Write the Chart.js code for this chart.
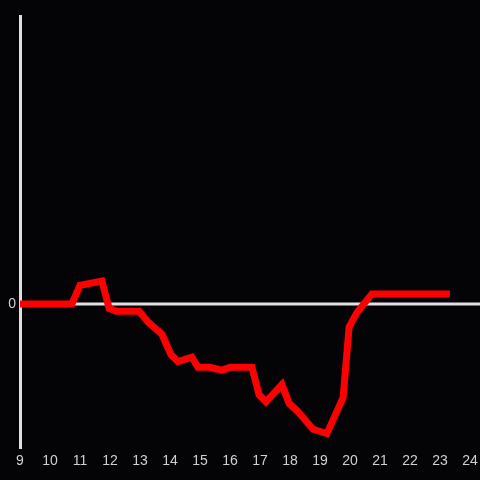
<!DOCTYPE html>
<html>
<head>
<meta charset="utf-8">
<script src="https://cdn.jsdelivr.net/npm/chart.js@4/dist/chart.umd.min.js"></script>
<style>
  html, body { margin: 0; padding: 0; background: #040306; }
  #wrap { width: 480px; height: 480px; }
</style>
</head>
<body>
<div id="wrap"><canvas id="chart" width="480" height="480"></canvas></div>
<script>
// Hours of the day (x) and level (y)
var hours = [9, 10.73, 11, 11.73, 11.97, 12.2, 12.97, 13.27, 13.73, 14.03, 14.27, 14.73, 14.93,
             15.33, 15.73, 16.0, 16.73, 16.97, 17.2, 17.73, 17.97, 18.23, 18.77, 19.23, 19.77,
             19.97, 20.23, 20.73, 23.33];
var levels = [0, 0, 0.13, 0.16, -0.03, -0.05, -0.05, -0.125, -0.21, -0.35, -0.40, -0.37, -0.44,
              -0.44, -0.46, -0.44, -0.44, -0.63, -0.68, -0.56, -0.69, -0.74, -0.87, -0.90, -0.65,
              -0.16, -0.06, 0.07, 0.07];
var xTicks = [9, 10, 11, 12, 13, 14, 15, 16, 17, 18, 19, 20, 21, 22, 23, 24];

var points = hours.map(function(h, i) { return { x: h, y: levels[i] }; });

// Paints the background and the zero line across to the right edge
var backdrop = {
    id: 'backdrop',
    beforeDraw: function(chart) {
        var ctx = chart.ctx;
        ctx.save();
        ctx.fillStyle = '#040306';
        ctx.fillRect(0, 0, chart.width, chart.height);
        ctx.restore();
    },
    beforeDatasetsDraw: function(chart) {
        var ctx = chart.ctx;
        var y0 = chart.scales.y.getPixelForValue(0);
        ctx.save();
        ctx.strokeStyle = '#e0e0e0';
        ctx.lineWidth = 3;
        ctx.beginPath();
        ctx.moveTo(chart.chartArea.left, y0);
        ctx.lineTo(chart.width, y0);
        ctx.stroke();
        ctx.restore();
    }
};

new Chart(document.getElementById('chart').getContext('2d'), {
    type: 'line',
    data: {
        datasets: [{
            data: points,
            borderColor: '#ff0000',
            borderWidth: 7,
            pointRadius: 0,
            tension: 0,
            fill: false,
            borderJoinStyle: 'miter'
        }]
    },
    options: {
        responsive: false,
        animation: false,
        layout: { padding: { top: 16, right: 10, left: 0, bottom: 0 } },
        plugins: { legend: { display: false }, tooltip: { enabled: false } },
        scales: {
            x: {
                type: 'linear',
                min: 9,
                max: 24,
                afterBuildTicks: function(scale) {
                    scale.ticks = xTicks.map(function(v) { return { value: v }; });
                },
                afterFit: function(scale) {
                    scale.height = 32;
                    scale.paddingLeft = 0;
                    scale.paddingRight = 0;
                },
                grid: { display: false, drawTicks: false },
                border: { display: false },
                ticks: {
                    color: '#d0d0d0',
                    padding: 5,
                    maxRotation: 0,
                    autoSkip: false,
                    font: { family: 'Liberation Sans', size: 14 }
                }
            },
            y: {
                min: -1,
                max: 2,
                afterBuildTicks: function(scale) {
                    scale.ticks = [{ value: 0 }];
                },
                afterFit: function(scale) { scale.width = 20; },
                grid: { display: false, drawTicks: false },
                border: { display: true, color: '#e0e0e0', width: 3 },
                ticks: {
                    color: '#d0d0d0',
                    padding: 4,
                    font: { family: 'Liberation Sans', size: 14 }
                }
            }
        }
    },
    plugins: [backdrop]
});
</script>
</body>
</html>
